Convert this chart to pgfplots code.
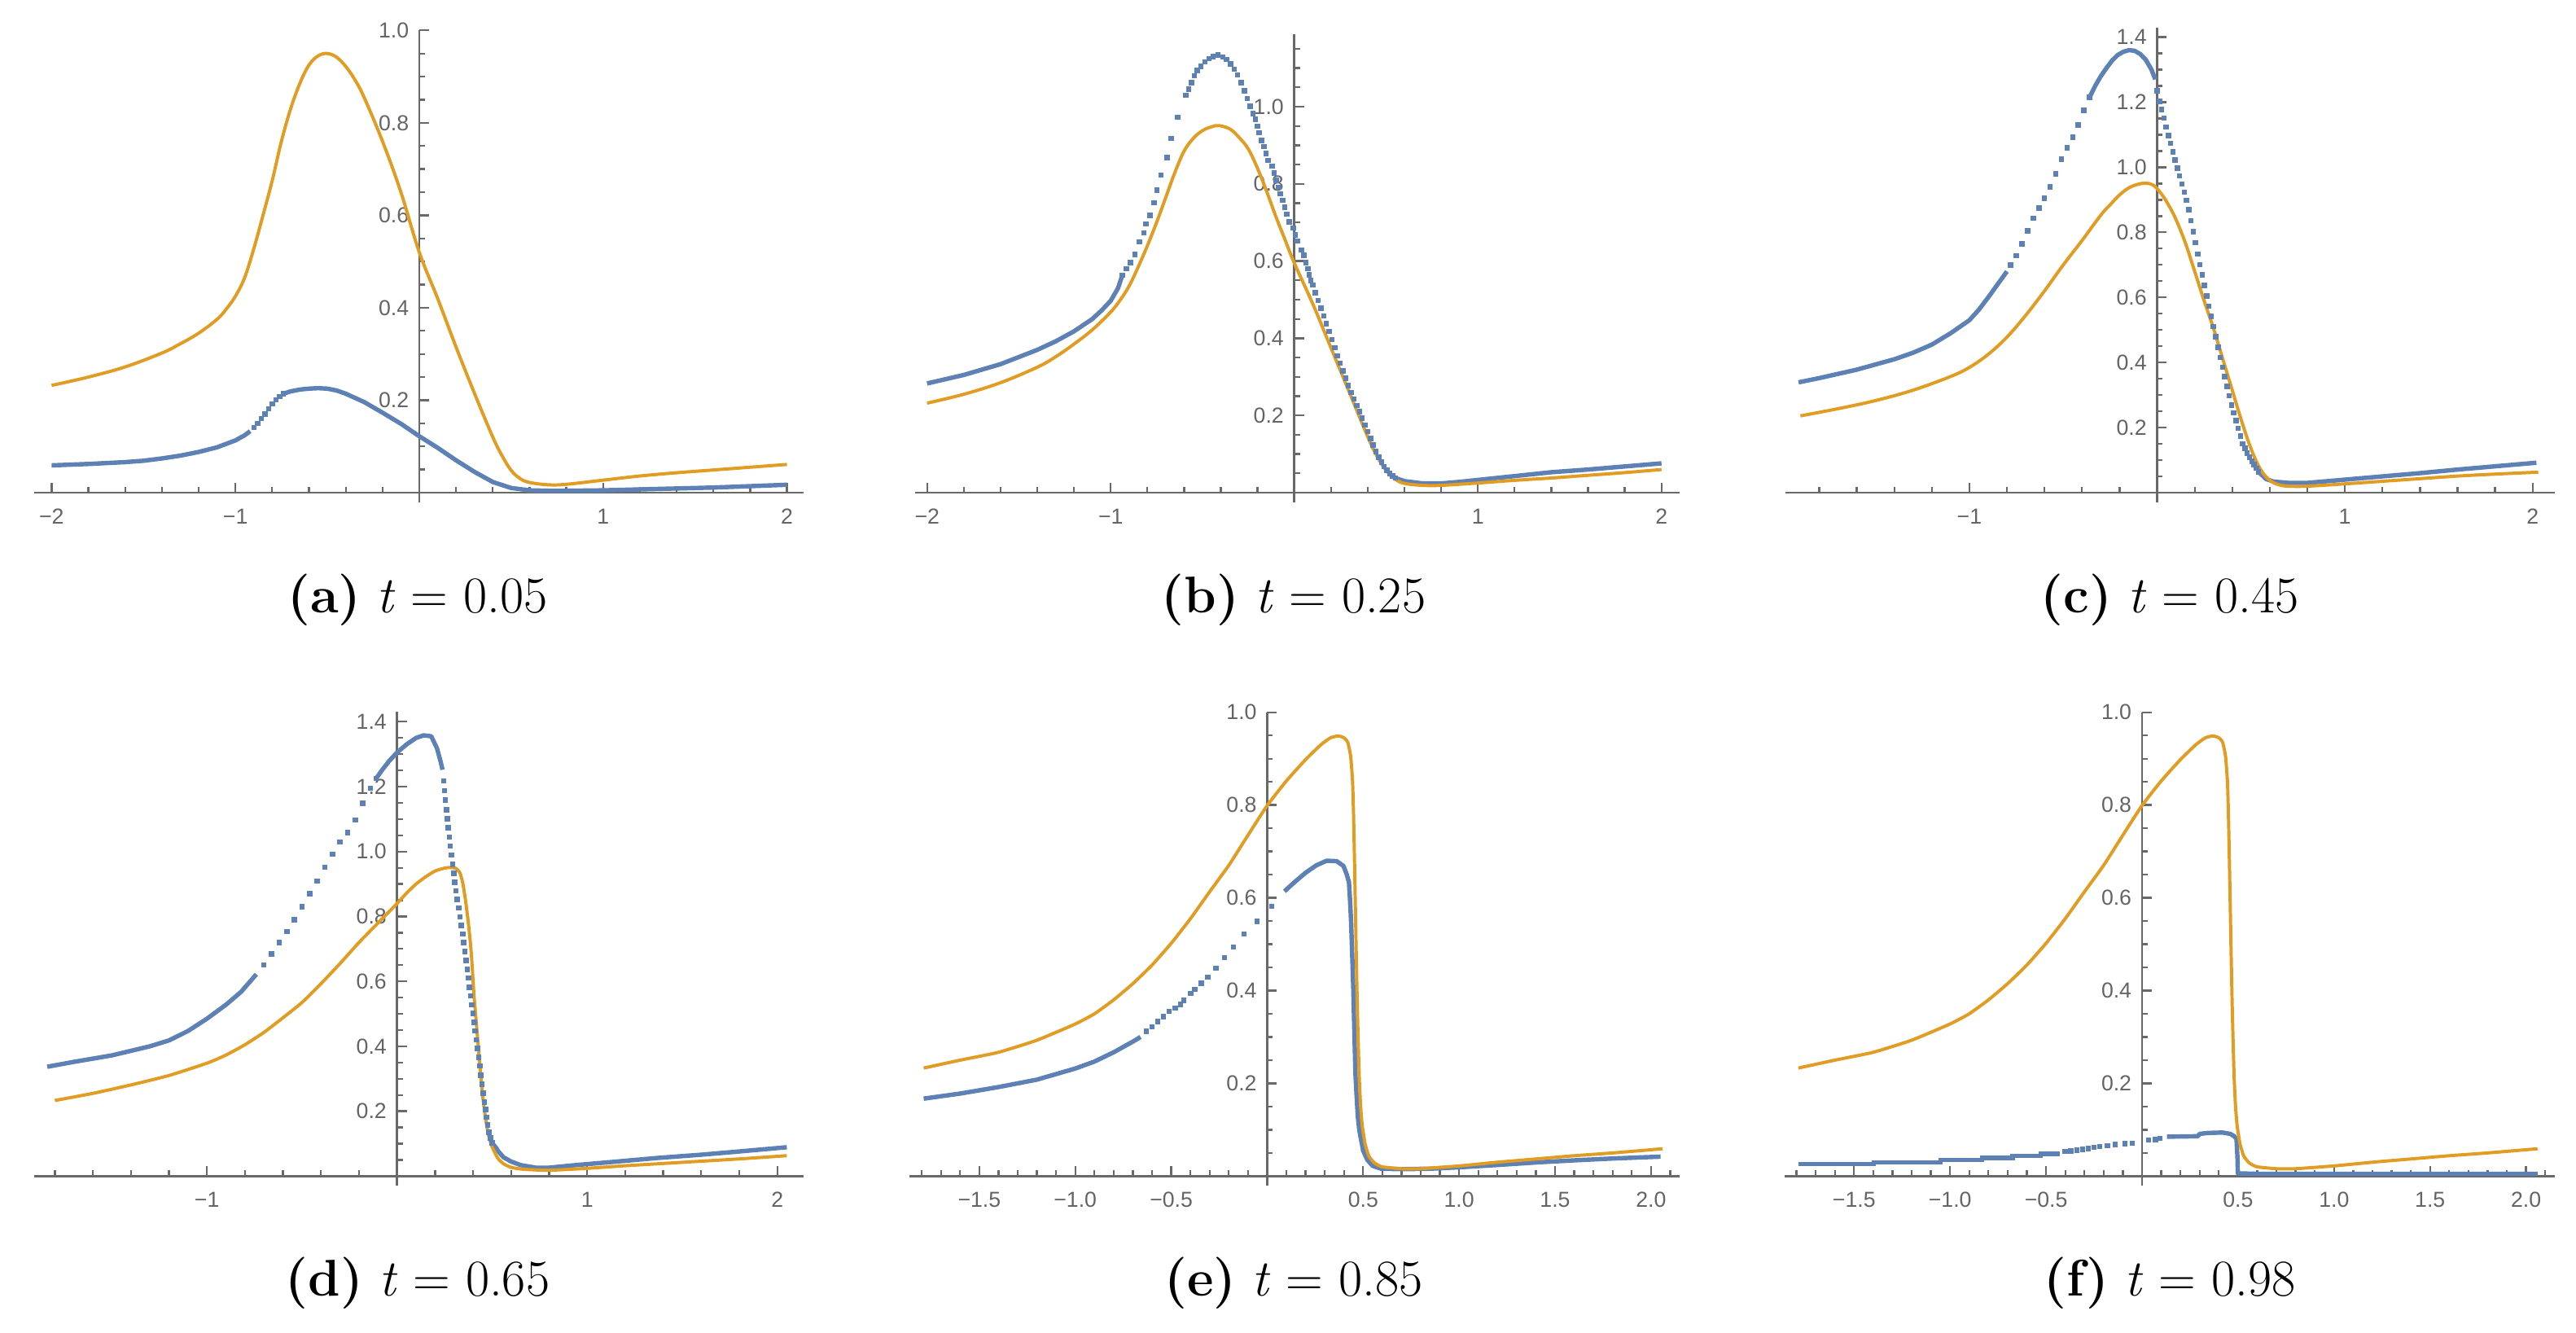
\documentclass[border=0pt]{standalone}
\usepackage{fontspec}
\usepackage{pgfplots}
\pgfplotsset{compat=1.18}
\newfontfamily\tickfont{Liberation Sans}
\definecolor{mblue}{RGB}{94,129,181}
\definecolor{morange}{RGB}{225,156,36}
\definecolor{axgray}{RGB}{105,105,105}
\definecolor{lblgray}{RGB}{100,100,100}
\pgfplotsset{
  panel/.style={
    scale only axis, anchor=south west,
    axis lines=middle,
    axis line style={-, draw=axgray, line width=0.62pt},
    every inner x axis line/.append style={-},
    every inner y axis line/.append style={-},
    tick style={draw=axgray, line width=0.55pt},
    tick align=inside,
    major tick length=2.85pt, minor tick length=1.65pt,
    ticklabel style={font=\tickfont\fontsize{6.4}{7}\selectfont, text=lblgray, inner sep=0pt},
    xticklabel style={anchor=north, yshift=-4.6pt},
    yticklabel style={anchor=east, xshift=-2.9pt},
    scaled ticks=false,
    clip=true,
  },
  bline/.style={color=mblue, line width=1.3pt, no markers, line join=round, line cap=butt},
  bstep/.style={color=mblue, line width=1.3pt, no markers, const plot},
  bdots/.style={color=mblue, only marks, mark=square*, mark size=0.58pt},
  oline/.style={color=morange, line width=0.95pt, no markers, line join=round},
}
\newcommand\capt[1]{{\fontsize{15.2}{18}\selectfont #1}}
\begin{document}
\begin{tikzpicture}
% ---------------- (a) ----------------
\begin{axis}[panel, at={(10.008pt,-148.056pt)}, width=226.85pt, height=139.10pt,
  xmin=-2.096, xmax=2.09, ymin=-0.021, ymax=1.0,
  xtick={-2,-1,1,2}, xticklabels={−2,−1,1,2}, minor xtick={-2,-1.8,...,2.01},
  ytick={0.2,0.4,0.6,0.8,1.0}, yticklabels={0.2,0.4,0.6,0.8,1.0}, minor ytick={0.05,0.1,...,1.01}]
\addplot[bline] coordinates {(-2,0.059) (-1.8,0.062) (-1.6,0.066) (-1.5,0.069) (-1.4,0.074) (-1.3,0.080) (-1.2,0.088) (-1.1,0.098) (-1.0,0.113) (-0.95,0.124) (-0.92,0.133)};
\addplot[bdots] coordinates {(-0.90,0.141) (-0.88,0.150) (-0.86,0.160) (-0.84,0.170) (-0.82,0.181) (-0.80,0.192) (-0.78,0.201) (-0.76,0.208) (-0.74,0.214)};
\addplot[bline] coordinates {(-0.74,0.214) (-0.70,0.219) (-0.65,0.223) (-0.60,0.225) (-0.55,0.226) (-0.50,0.225) (-0.45,0.221) (-0.40,0.214) (-0.30,0.196) (-0.20,0.173) (-0.10,0.149) (0,0.122) (0.10,0.097) (0.20,0.070) (0.30,0.045) (0.40,0.023) (0.50,0.010) (0.60,0.005) (0.70,0.004) (0.80,0.004) (1.0,0.005) (1.2,0.007) (1.4,0.009) (1.6,0.011) (1.8,0.014) (2.0,0.017)};
\addplot[oline, smooth, tension=0.6] coordinates {(-2,0.232) (-1.8,0.250) (-1.6,0.272) (-1.4,0.302) (-1.3,0.322) (-1.2,0.345) (-1.1,0.375) (-1.05,0.397) (-1.0,0.425) (-0.95,0.465) (-0.9,0.528) (-0.85,0.600) (-0.8,0.675) (-0.75,0.760) (-0.7,0.830) (-0.65,0.885) (-0.6,0.925) (-0.55,0.945) (-0.5,0.950) (-0.45,0.942) (-0.4,0.922) (-0.35,0.893) (-0.3,0.855) (-0.2,0.760) (-0.1,0.650) (0,0.520) (0.1,0.420) (0.2,0.315) (0.3,0.215) (0.4,0.120) (0.45,0.080) (0.5,0.048) (0.55,0.030) (0.6,0.022) (0.7,0.017) (0.8,0.018) (1.0,0.027) (1.2,0.036) (1.4,0.043) (1.6,0.049) (1.8,0.055) (2.0,0.061)};
\end{axis}
% ---------------- (b) ----------------
\begin{axis}[panel, at={(269.712pt,-148.056pt)}, width=225.36pt, height=138.0pt,
  xmin=-2.066, xmax=2.098, ymin=-0.025, ymax=1.188,
  xtick={-2,-1,1,2}, xticklabels={−2,−1,1,2}, minor xtick={-2,-1.8,...,2.01},
  ytick={0.2,0.4,0.6,0.8,1.0}, yticklabels={0.2,0.4,0.6,0.8,1.0}, minor ytick={0.05,0.1,...,1.16}]
\addplot[bline] coordinates {(-2.0,0.283) (-1.8,0.305) (-1.6,0.333) (-1.4,0.370) (-1.3,0.392) (-1.2,0.418) (-1.1,0.450) (-1.05,0.472) (-1.0,0.497) (-0.96,0.530) (-0.937,0.563)};
\addplot[bdots] coordinates {(-0.937,0.563) (-0.915,0.580) (-0.893,0.596) (-0.868,0.617) (-0.844,0.650) (-0.819,0.673) (-0.809,0.696) (-0.785,0.718) (-0.763,0.751) (-0.749,0.784) (-0.727,0.823) (-0.693,0.868) (-0.670,0.918) (-0.634,0.973) (-0.590,1.030) (-0.575,1.045) (-0.560,1.062) (-0.545,1.080) (-0.528,1.094) (-0.509,1.104) (-0.486,1.116) (-0.464,1.125) (-0.442,1.130) (-0.416,1.134) (-0.390,1.129) (-0.368,1.122) (-0.346,1.111) (-0.327,1.097) (-0.309,1.082) (-0.290,1.062) (-0.271,1.041) (-0.257,1.021) (-0.240,1.001) (-0.226,0.982) (-0.212,0.967) (-0.201,0.949) (-0.191,0.933) (-0.179,0.912) (-0.166,0.897) (-0.154,0.879) (-0.142,0.861) (-0.121,0.846) (-0.110,0.828) (-0.098,0.809) (-0.086,0.791) (-0.076,0.774) (-0.064,0.757) (-0.053,0.740) (-0.040,0.722) (-0.028,0.702) (-0.006,0.686) (0.006,0.668) (0.016,0.652) (0.038,0.629) (0.053,0.615) (0.063,0.596) (0.075,0.580) (0.082,0.564) (0.09,0.550) (0.1,0.538) (0.115,0.518) (0.13,0.498) (0.145,0.478) (0.16,0.458) (0.175,0.438) (0.19,0.418) (0.205,0.397) (0.22,0.376) (0.235,0.355) (0.25,0.335) (0.265,0.315) (0.28,0.296) (0.295,0.278) (0.31,0.26) (0.325,0.243) (0.34,0.226) (0.355,0.21) (0.37,0.193) (0.385,0.175) (0.40,0.158) (0.415,0.14) (0.43,0.123) (0.445,0.107) (0.46,0.092) (0.475,0.079) (0.49,0.068) (0.505,0.058) (0.52,0.05) (0.535,0.043) (0.55,0.038)};
\addplot[bline] coordinates {(0.55,0.038) (0.6,0.030) (0.7,0.024) (0.8,0.024) (0.9,0.028) (1.0,0.033) (1.2,0.043) (1.4,0.053) (1.6,0.060) (1.8,0.068) (2.0,0.076)};
\addplot[oline, smooth, tension=0.6] coordinates {(-2.0,0.232) (-1.8,0.255) (-1.6,0.285) (-1.4,0.325) (-1.3,0.352) (-1.2,0.385) (-1.1,0.422) (-1.0,0.468) (-0.95,0.498) (-0.9,0.535) (-0.85,0.585) (-0.8,0.640) (-0.75,0.700) (-0.7,0.765) (-0.65,0.830) (-0.6,0.885) (-0.55,0.918) (-0.5,0.938) (-0.45,0.948) (-0.41,0.951) (-0.35,0.942) (-0.3,0.920) (-0.25,0.890) (-0.2,0.840) (-0.15,0.780) (-0.1,0.715) (-0.05,0.655) (0,0.595) (0.1,0.490) (0.2,0.375) (0.3,0.260) (0.4,0.145) (0.45,0.095) (0.5,0.058) (0.55,0.035) (0.6,0.024) (0.7,0.019) (0.8,0.019) (1.0,0.025) (1.2,0.032) (1.4,0.038) (1.6,0.045) (1.8,0.052) (2.0,0.060)};
\end{axis}
% ---------------- (c) ----------------
\begin{axis}[panel, at={(526.296pt,-148.08pt)}, width=226.92pt, height=139.824pt,
  xmin=-1.98, xmax=2.12, ymin=-0.03, ymax=1.428,
  xtick={-1,1,2}, xticklabels={−1,1,2}, minor xtick={-1.8,-1.6,...,2.01},
  ytick={0.2,0.4,...,1.41}, yticklabels={0.2,0.4,0.6,0.8,1.0,1.2,1.4}, minor ytick={0.05,0.1,...,1.41}]
\addplot[bline] coordinates {(-1.91,0.339) (-1.8,0.352) (-1.6,0.378) (-1.4,0.410) (-1.3,0.430) (-1.2,0.455) (-1.1,0.490) (-1.0,0.530) (-0.95,0.562) (-0.9,0.600) (-0.85,0.640) (-0.8,0.680)};
\addplot[bdots] coordinates {(-0.78,0.700) (-0.75,0.728) (-0.72,0.765) (-0.69,0.805) (-0.66,0.843) (-0.63,0.875) (-0.60,0.905) (-0.57,0.940) (-0.54,0.980) (-0.51,1.025) (-0.48,1.060) (-0.45,1.092) (-0.42,1.130) (-0.39,1.175) (-0.36,1.215)};
\addplot[bline] coordinates {(-0.36,1.215) (-0.33,1.250) (-0.30,1.280) (-0.27,1.305) (-0.24,1.328) (-0.21,1.345) (-0.18,1.355) (-0.15,1.360) (-0.12,1.358) (-0.09,1.348) (-0.06,1.330) (-0.03,1.300) (-0.01,1.270)};
\addplot[bdots] coordinates {(0.000,1.235) (0.012,1.203) (0.024,1.177) (0.036,1.151) (0.048,1.124) (0.060,1.098) (0.072,1.073) (0.084,1.047) (0.096,1.022) (0.108,0.997) (0.120,0.973) (0.132,0.948) (0.144,0.924) (0.156,0.899) (0.168,0.870) (0.180,0.836) (0.192,0.802) (0.204,0.768) (0.216,0.733) (0.228,0.701) (0.240,0.669) (0.252,0.637) (0.264,0.605) (0.276,0.573) (0.288,0.542) (0.300,0.510) (0.312,0.479) (0.324,0.447) (0.336,0.415) (0.348,0.386) (0.360,0.357) (0.372,0.327) (0.384,0.298) (0.396,0.269) (0.408,0.245) (0.420,0.221) (0.432,0.198) (0.444,0.174) (0.456,0.150) (0.468,0.136) (0.480,0.122) (0.492,0.109) (0.504,0.097) (0.516,0.086) (0.528,0.075) (0.540,0.064)};
\addplot[bline] coordinates {(0.54,0.064) (0.58,0.042) (0.62,0.034) (0.7,0.030) (0.8,0.030) (0.9,0.035) (1.0,0.040) (1.2,0.050) (1.4,0.060) (1.6,0.071) (1.8,0.081) (2.02,0.092)};
\addplot[oline, smooth, tension=0.6] coordinates {(-1.9,0.236) (-1.7,0.258) (-1.5,0.283) (-1.3,0.315) (-1.1,0.357) (-1.0,0.385) (-0.9,0.425) (-0.8,0.478) (-0.7,0.545) (-0.6,0.620) (-0.5,0.700) (-0.4,0.775) (-0.3,0.853) (-0.25,0.885) (-0.2,0.915) (-0.15,0.937) (-0.1,0.948) (-0.06,0.951) (-0.02,0.945) (0.02,0.920) (0.06,0.885) (0.1,0.840) (0.15,0.768) (0.2,0.680) (0.25,0.590) (0.3,0.505) (0.35,0.410) (0.4,0.315) (0.45,0.220) (0.5,0.135) (0.55,0.072) (0.6,0.038) (0.65,0.024) (0.7,0.020) (0.8,0.020) (1.0,0.027) (1.2,0.035) (1.4,0.043) (1.6,0.051) (1.8,0.057) (2.03,0.063)};
\end{axis}
% ---------------- (d) ----------------
\begin{axis}[panel, at={(10.008pt,-349.512pt)}, width=226.968pt, height=139.68pt,
  xmin=-1.91, xmax=2.14, ymin=-0.03, ymax=1.43,
  xtick={-1,1,2}, xticklabels={−1,1,2}, minor xtick={-1.8,-1.6,...,2.01},
  ytick={0.2,0.4,...,1.41}, yticklabels={0.2,0.4,0.6,0.8,1.0,1.2,1.4}, minor ytick={0.05,0.1,...,1.41}]
\addplot[bline] coordinates {(-1.84,0.337) (-1.7,0.352) (-1.5,0.372) (-1.3,0.400) (-1.2,0.418) (-1.1,0.447) (-1.0,0.485) (-0.9,0.528) (-0.82,0.568) (-0.78,0.595) (-0.74,0.622)};
\addplot[bdots] coordinates {(-0.70,0.651) (-0.66,0.685) (-0.62,0.720) (-0.58,0.754) (-0.54,0.790) (-0.50,0.830) (-0.46,0.870) (-0.42,0.909) (-0.38,0.952) (-0.34,0.992) (-0.30,1.030) (-0.26,1.058) (-0.22,1.097) (-0.18,1.148) (-0.14,1.195) (-0.11,1.225)};
\addplot[bline] coordinates {(-0.11,1.225) (-0.08,1.250) (-0.04,1.280) (0.0,1.305) (0.05,1.330) (0.1,1.350) (0.14,1.358) (0.18,1.355) (0.21,1.318) (0.23,1.275) (0.239,1.252)};
\addplot[bdots] coordinates {(0.245,1.217) (0.250,1.188) (0.255,1.159) (0.260,1.129) (0.265,1.101) (0.270,1.073) (0.275,1.045) (0.280,1.017) (0.286,0.989) (0.292,0.961) (0.298,0.933) (0.304,0.905) (0.310,0.879) (0.317,0.852) (0.324,0.826) (0.331,0.799) (0.338,0.772) (0.345,0.746) (0.351,0.720) (0.357,0.692) (0.363,0.665) (0.369,0.637) (0.375,0.610) (0.381,0.582) (0.387,0.555) (0.393,0.528) (0.399,0.501) (0.405,0.474) (0.411,0.447) (0.417,0.420) (0.423,0.393) (0.429,0.366) (0.435,0.339) (0.441,0.311) (0.447,0.283) (0.453,0.255) (0.459,0.228) (0.465,0.205) (0.471,0.181) (0.477,0.158) (0.484,0.135) (0.492,0.117) (0.500,0.102)};
\addplot[bline] coordinates {(0.50,0.102) (0.52,0.088) (0.533,0.076) (0.56,0.058) (0.6,0.045) (0.65,0.034) (0.73,0.026) (0.8,0.026) (0.94,0.034) (1.1,0.042) (1.37,0.056) (1.6,0.066) (1.8,0.076) (2.05,0.089)};
\addplot[oline, smooth, tension=0.35] coordinates {(-1.8,0.233) (-1.6,0.255) (-1.4,0.281) (-1.2,0.310) (-1.0,0.348) (-0.9,0.373) (-0.8,0.405) (-0.7,0.443) (-0.6,0.488) (-0.5,0.535) (-0.4,0.593) (-0.3,0.655) (-0.2,0.720) (-0.1,0.780) (0.0,0.840) (0.05,0.872) (0.1,0.900) (0.15,0.922) (0.2,0.940) (0.25,0.949) (0.28,0.951) (0.31,0.948) (0.33,0.935) (0.345,0.905) (0.36,0.850) (0.375,0.780) (0.39,0.690) (0.405,0.555) (0.42,0.450) (0.435,0.345) (0.45,0.250) (0.465,0.180) (0.48,0.130) (0.5,0.090) (0.53,0.055) (0.56,0.038) (0.6,0.027) (0.65,0.022) (0.7,0.020) (0.8,0.018) (1.0,0.024) (1.2,0.032) (1.4,0.039) (1.6,0.046) (1.8,0.053) (2.05,0.063)};
\end{axis}
% ---------------- (e) ----------------
\begin{axis}[panel, at={(268.152pt,-349.512pt)}, width=226.896pt, height=139.584pt,
  xmin=-1.863, xmax=2.148, ymin=-0.021, ymax=1.0,
  xtick={-1.5,-1,-0.5,0.5,1,1.5,2}, xticklabels={−1.5,−1.0,−0.5,0.5,1.0,1.5,2.0}, minor xtick={-1.8,-1.7,...,2.11},
  ytick={0.2,0.4,0.6,0.8,1.0}, yticklabels={0.2,0.4,0.6,0.8,1.0}, minor ytick={0.05,0.1,...,1.01}]
\addplot[bline] coordinates {(-1.79,0.167) (-1.6,0.178) (-1.4,0.192) (-1.2,0.208) (-1.0,0.232) (-0.9,0.247) (-0.8,0.267) (-0.7,0.290) (-0.66,0.300)};
\addplot[bdots] coordinates {(-0.63,0.312) (-0.60,0.322) (-0.57,0.333) (-0.54,0.344) (-0.51,0.355) (-0.48,0.362) (-0.451,0.370) (-0.434,0.379) (-0.398,0.394) (-0.378,0.403) (-0.344,0.416) (-0.310,0.429) (-0.268,0.448) (-0.222,0.471) (-0.176,0.494) (-0.12,0.522) (-0.053,0.549) (0.024,0.582)};
\addplot[bline] coordinates {(0.09,0.614) (0.143,0.634) (0.2,0.654) (0.256,0.670) (0.31,0.680) (0.362,0.679) (0.397,0.669) (0.414,0.651) (0.426,0.634) (0.432,0.593) (0.437,0.550) (0.442,0.490) (0.449,0.400) (0.455,0.300) (0.46,0.220) (0.465,0.180) (0.472,0.130) (0.48,0.099) (0.5,0.055) (0.522,0.035) (0.55,0.022) (0.594,0.016) (0.7,0.015) (0.85,0.016) (1.0,0.019) (1.2,0.024) (1.42,0.030) (1.6,0.034) (1.8,0.038) (2.05,0.042)};
\addplot[oline, smooth, tension=0.3] coordinates {(-1.79,0.233) (-1.6,0.250) (-1.4,0.267) (-1.2,0.293) (-1.0,0.328) (-0.9,0.350) (-0.8,0.380) (-0.7,0.415) (-0.6,0.455) (-0.5,0.502) (-0.4,0.555) (-0.3,0.613) (-0.2,0.670) (-0.1,0.735) (0.0,0.799) (0.1,0.852) (0.2,0.898) (0.28,0.930) (0.33,0.945) (0.37,0.949) (0.40,0.945) (0.42,0.935) (0.435,0.905) (0.445,0.850) (0.45,0.780) (0.455,0.680) (0.46,0.570) (0.465,0.460) (0.47,0.360) (0.475,0.280) (0.48,0.210) (0.487,0.150) (0.495,0.110) (0.51,0.070) (0.53,0.043) (0.56,0.028) (0.6,0.020) (0.7,0.016) (0.8,0.016) (1.0,0.022) (1.2,0.030) (1.4,0.037) (1.6,0.044) (1.8,0.050) (2.06,0.059)};
\end{axis}
% ---------------- (f) ----------------
\begin{axis}[panel, at={(526.104pt,-349.512pt)}, width=226.944pt, height=139.584pt,
  xmin=-1.861, xmax=2.149, ymin=-0.021, ymax=1.0,
  xtick={-1.5,-1,-0.5,0.5,1,1.5,2}, xticklabels={−1.5,−1.0,−0.5,0.5,1.0,1.5,2.0}, minor xtick={-1.8,-1.7,...,2.11},
  ytick={0.2,0.4,0.6,0.8,1.0}, yticklabels={0.2,0.4,0.6,0.8,1.0}, minor ytick={0.05,0.1,...,1.01}]
\addplot[bstep] coordinates {(-1.79,0.026) (-1.397,0.030) (-1.05,0.035) (-0.833,0.039) (-0.674,0.044) (-0.529,0.048) (-0.43,0.048)};
\addplot[bdots] coordinates {(-0.40,0.053) (-0.37,0.0545) (-0.34,0.056) (-0.31,0.0575) (-0.28,0.059) (-0.25,0.062) (-0.22,0.064) (-0.18,0.066) (-0.14,0.068) (-0.09,0.070) (-0.05,0.071) (0.035,0.078) (0.07,0.079) (0.093,0.081)};
\addplot[bline] coordinates {(0.13,0.085) (0.29,0.086) (0.30,0.091) (0.34,0.093) (0.42,0.094) (0.46,0.091) (0.48,0.086) (0.492,0.080) (0.497,0.040) (0.499,0.006) (0.6,0.005) (1.0,0.005) (1.5,0.005) (2.06,0.005)};
\addplot[oline, smooth, tension=0.3] coordinates {(-1.79,0.233) (-1.6,0.250) (-1.4,0.267) (-1.2,0.293) (-1.0,0.328) (-0.9,0.350) (-0.8,0.380) (-0.7,0.415) (-0.6,0.455) (-0.5,0.502) (-0.4,0.555) (-0.3,0.613) (-0.2,0.670) (-0.1,0.735) (0.0,0.799) (0.1,0.852) (0.2,0.898) (0.28,0.930) (0.33,0.945) (0.37,0.949) (0.40,0.945) (0.42,0.935) (0.435,0.905) (0.445,0.850) (0.45,0.780) (0.455,0.680) (0.46,0.570) (0.465,0.460) (0.47,0.360) (0.475,0.280) (0.48,0.210) (0.487,0.150) (0.495,0.110) (0.51,0.070) (0.53,0.043) (0.56,0.028) (0.6,0.020) (0.7,0.016) (0.8,0.016) (1.0,0.022) (1.2,0.030) (1.4,0.037) (1.6,0.044) (1.8,0.050) (2.06,0.059)};
\end{axis}
% ---------------- captions ----------------
\node[anchor=base] at (123.12pt,-180.48pt) {\capt{\textbf{(a)} \textit{t}~=~0.05}};
\node[anchor=base] at (381.36pt,-180.48pt) {\capt{\textbf{(b)} \textit{t}~=~0.25}};
\node[anchor=base] at (639.6pt,-180.48pt) {\capt{\textbf{(c)} \textit{t}~=~0.45}};
\node[anchor=base] at (123.12pt,-381.84pt) {\capt{\textbf{(d)} \textit{t}~=~0.65}};
\node[anchor=base] at (381.36pt,-381.84pt) {\capt{\textbf{(e)} \textit{t}~=~0.85}};
\node[anchor=base] at (639.6pt,-381.84pt) {\capt{\textbf{(f)} \textit{t}~=~0.98}};
\pgfresetboundingbox
\path[use as bounding box] (0,0) rectangle (759.36pt,-392.88pt);
\end{tikzpicture}
\end{document}
